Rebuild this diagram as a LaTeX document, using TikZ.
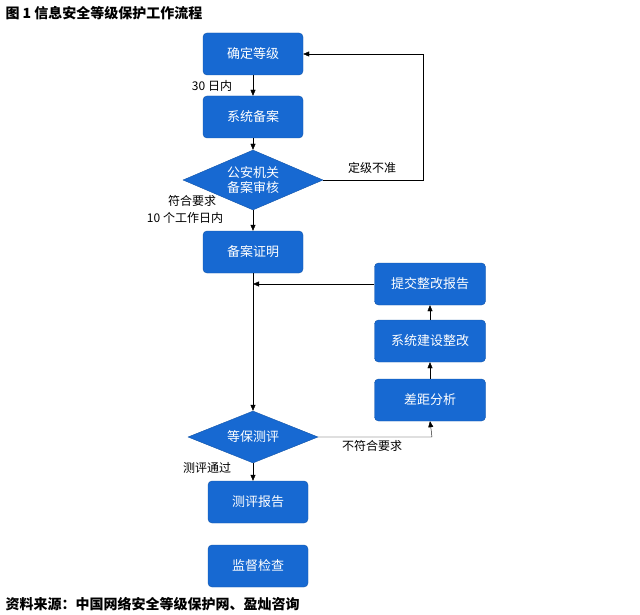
\documentclass[tikz,border=0pt]{standalone}
\usepackage{fontspec}
\setmainfont{Noto Sans CJK SC}
\usetikzlibrary{shapes.geometric,arrows.meta}
\definecolor{bx}{HTML}{1769D2}
\begin{document}
\begin{tikzpicture}[x=1pt,y=-1pt,
  box/.style={draw=bx!80!black,fill=bx,rounded corners=4pt,text=white,minimum width=100pt,minimum height=42pt,font=\fontsize{13}{15}\selectfont},
  dia/.style={draw=bx!80!black,fill=bx,diamond,aspect=2.3,text=white,inner sep=0pt,font=\fontsize{13}{15}\selectfont,align=center},
  lab/.style={font=\fontsize{12}{14}\selectfont,inner sep=1pt},
  ar/.style={-{Triangle[length=6pt,width=5pt]},black}]
\useasboundingbox (0,0) rectangle (640,615);
\node[anchor=west,font=\bfseries\fontsize{14}{16}\selectfont] (t) at (2,13) {图 1 信息安全等级保护工作流程};
\node[box] (a) at (253,54) {确定等级};
\node[box] (b) at (253,117) {系统备案};
\node[dia,minimum width=140pt,minimum height=60pt] (c) at (253,180) {公安机关\\备案审核};
\node[box] (d) at (253,252) {备案证明};
\node[box,minimum width=111pt] (e) at (430,284) {提交整改报告};
\node[box,minimum width=111pt] (f) at (430,341) {系统建设整改};
\node[box,minimum width=111pt] (g) at (430,400) {差距分析};
\node[dia,minimum width=130pt,minimum height=52pt] (h) at (253,437) {等保测评};
\node[box] (i) at (258,502) {测评报告};
\node[box] (j) at (258,566) {监督检查};
\coordinate (m) at (253,284);
\draw[ar] (a) -- (b);
\draw[ar] (b) -- (c);
\draw[ar] (c) -- (d);
\draw[ar] (c.east) -- (423,180) -- (423,54) -- (a.east);
\draw[ar] (d.south) -- (h.north);
\draw[ar] (e.west) -- (m);
\draw[ar] (h.east) -- (432,437) -- (g.south);
\draw[ar] (g) -- (f);
\draw[ar] (f) -- (e);
\draw[ar] (h.south) -- (h.south|-i.north);
\node[lab] (l1) at (212,86) {30 日内};
\node[lab] (l2) at (372,168) {定级不准};
\node[lab] (l3) at (192,201) {符合要求};
\node[lab] (l4) at (185,218) {10 个工作日内};
\node[lab] (l5) at (372,446) {不符合要求};
\node[lab] (l6) at (207,468) {测评通过};
\node[anchor=west,font=\bfseries\fontsize{14}{16}\selectfont] (s) at (2,604) {资料来源：中国网络安全等级保护网、盈灿咨询};
\end{tikzpicture}
\end{document}
